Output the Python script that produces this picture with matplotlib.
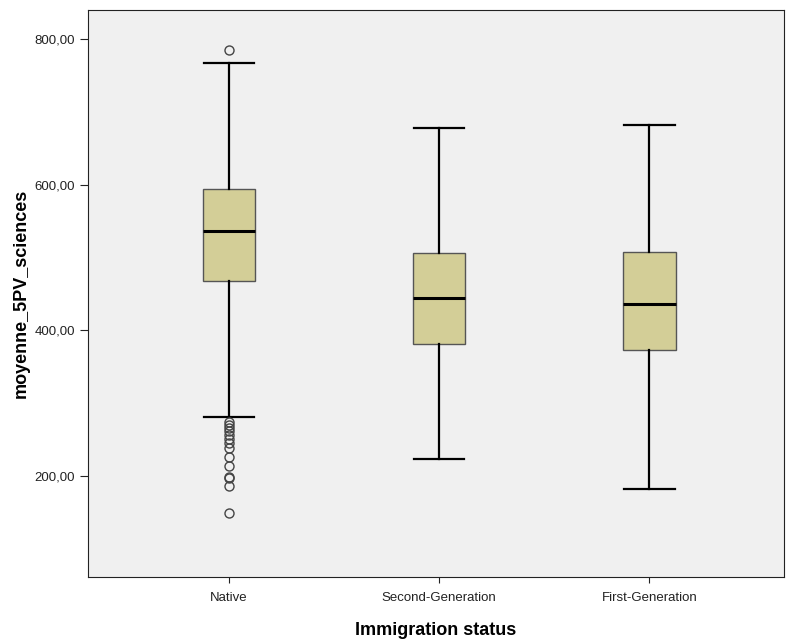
import numpy as np
import matplotlib.pyplot as plt
from matplotlib.ticker import FuncFormatter

plt.rcParams['font.family'] = ['Liberation Sans', 'DejaVu Sans']

groups = ["Native", "Second-Generation", "First-Generation"]
q1 = [467, 381, 373]
median = [537, 444, 436]
q3 = [594, 506, 507]
whisker_low = [281, 223, 182]
whisker_high = [767, 678, 682]
native_outliers = [785, 274, 270, 266, 261, 256, 250, 245, 238, 226, 214, 199, 197, 186, 149]
outliers = [native_outliers, [], []]

stats = []
for i, g in enumerate(groups):
    stats.append(dict(label=g, q1=q1[i], med=median[i], q3=q3[i],
                      whislo=whisker_low[i], whishi=whisker_high[i], fliers=outliers[i]))

fig = plt.figure(figsize=(7.88, 6.39), dpi=100)
ax = fig.add_axes([88/788, 62/639, 696/788, 567/639])
ax.set_facecolor("#f0f0f0")

ax.bxp(stats, positions=[1, 2, 3], widths=0.25, patch_artist=True,
       boxprops=dict(facecolor="#d3ce97", edgecolor="#555555", linewidth=1),
       medianprops=dict(color="black", linewidth=2.2),
       whiskerprops=dict(color="black", linewidth=1.6),
       capprops=dict(color="black", linewidth=1.6),
       capwidths=0.24,
       flierprops=dict(marker="o", markerfacecolor="none", markeredgecolor="#444444",
                       markersize=6.5, markeredgewidth=1))

ax.set_xlim(0.33, 3.64)
ax.set_ylim(61, 840)
ax.set_yticks([200, 400, 600, 800])
ax.yaxis.set_major_formatter(FuncFormatter(lambda v, p: f"{v:.2f}".replace(".", ",")))
ax.tick_params(axis="both", labelsize=9.5, colors="#222222", length=6)
ax.tick_params(axis="x", length=4, pad=7)
for s in ax.spines.values():
    s.set_color("#222222")
ax.set_xlabel("Immigration status", fontsize=13, fontweight="bold", labelpad=13)
ax.set_ylabel("moyenne_5PV_sciences", fontsize=13, fontweight="bold", labelpad=3)

plt.savefig("out.png", dpi=100)
